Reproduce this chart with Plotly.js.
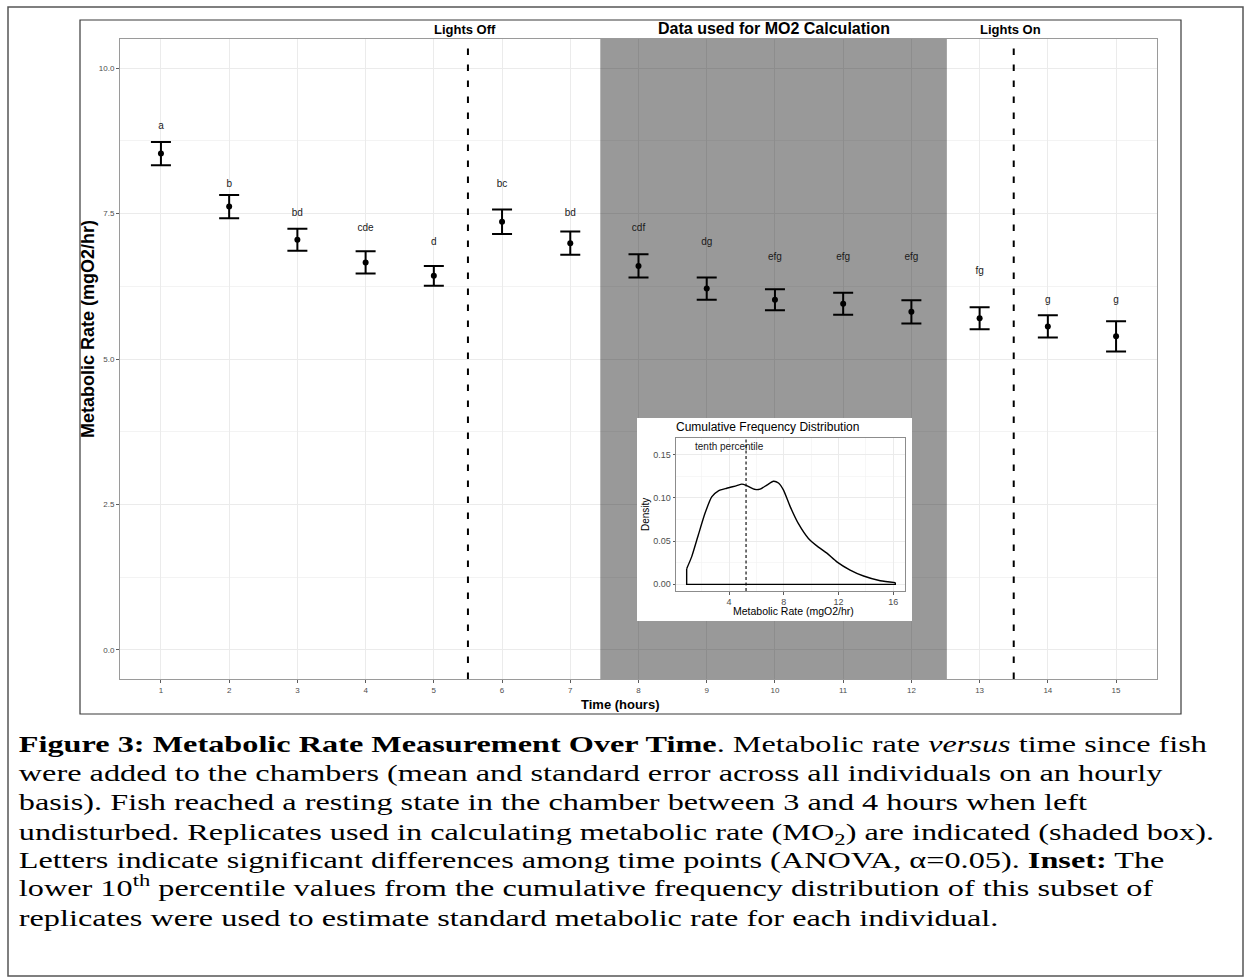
<!DOCTYPE html>
<html>
<head>
<meta charset="utf-8">
<script src="https://cdn.plot.ly/plotly-3.0.1.min.js"></script>
<style>
  html, body { margin: 0; padding: 0; background: #ffffff; overflow: hidden; }
  #chart { width: 1250px; height: 978px; }
</style>
</head>
<body>
<div id="chart"></div>
<script>
// Hourly metabolic rate (mean ± SE) with significance group letters
const hours = [1, 2, 3, 4, 5, 6, 7, 8, 9, 10, 11, 12, 13, 14, 15];
const meanRate = [8.53, 7.62, 7.05, 6.66, 6.43, 7.36, 6.99, 6.60, 6.21, 6.02, 5.95, 5.81, 5.70, 5.56, 5.39];
const stdError = [0.20, 0.20, 0.19, 0.19, 0.17, 0.21, 0.20, 0.20, 0.19, 0.18, 0.19, 0.20, 0.19, 0.19, 0.26];
const groupLetters = ['a', 'b', 'bd', 'cde', 'd', 'bc', 'bd', 'cdf', 'dg', 'efg', 'efg', 'efg', 'fg', 'g', 'g'];
const letterHeight = [9, 8, 7.5, 7.25, 7, 8, 7.5, 7.25, 7, 6.75, 6.75, 6.75, 6.5, 6, 6];
const hourTicks = ['1', '2', '3', '4', '5', '6', '7', '8', '9', '10', '11', '12', '13', '14', '15'];

// Light schedule and the hours used for the MO2 estimate
const lightsOff = 5.5;
const lightsOn = 13.5;
const mo2Window = [7.44, 12.52];

// Density of metabolic rate within the MO2 window (inset)
const densityRate = [0.9, 1.27, 1.75, 2.24, 2.73, 3.22, 3.83, 4.56, 4.93, 5.29, 5.9, 6.27, 6.76, 7.24, 7.61, 7.97, 8.46, 9.07, 9.8, 10.53, 11.15, 11.88, 12.85, 13.83, 15.05, 16.15];
const densityValue = [0.018, 0.032, 0.057, 0.082, 0.101, 0.108, 0.111, 0.114, 0.1157, 0.114, 0.1096, 0.110, 0.1146, 0.119, 0.117, 0.109, 0.090, 0.070, 0.053, 0.043, 0.036, 0.026, 0.0165, 0.0096, 0.0042, 0.002];
const tenthPercentile = 5.24;

// Figure caption, one entry per printed line
const captionLines = [
  '<b>Figure 3: Metabolic Rate Measurement Over Time</b>. Metabolic rate <i>versus</i> time since fish',
  'were added to the chambers (mean and standard error across all individuals on an hourly',
  'basis). Fish reached a resting state in the chamber between 3 and 4 hours when left',
  'undisturbed. Replicates used in calculating metabolic rate (MO<sub>2</sub>) are indicated (shaded box).',
  'Letters indicate significant differences among time points (ANOVA, \u03b1=0.05). <b>Inset:</b> The',
  'lower 10<sup>th</sup> percentile values from the cumulative frequency distribution of this subset of',
  'replicates were used to estimate standard metabolic rate for each individual.'
];

const W = 1250, H = 978;
const px = v => v / W;
const py = v => 1 - v / H;

const SANS = 'Liberation Sans, Arial, sans-serif';
const SERIF = 'Liberation Serif, Times New Roman, serif';
const GRID = '#ebebeb';

const mainYRange = [-0.5, 10.5];
const insetXRange = [0.12, 16.86];
const insetYRange = [-0.0077, 0.169];

const nD = densityRate.length;

const traces = [
  // shaded MO2 window, spanning the full panel height
  {
    type: 'scatter', mode: 'lines', xaxis: 'x', yaxis: 'y',
    x: [mo2Window[0], mo2Window[1], mo2Window[1], mo2Window[0], mo2Window[0]],
    y: [mainYRange[0], mainYRange[0], mainYRange[1], mainYRange[1], mainYRange[0]],
    fill: 'toself', fillcolor: 'rgba(0,0,0,0.4)', line: { width: 0, color: 'rgba(0,0,0,0)' },
    hoverinfo: 'skip'
  },
  {
    type: 'scatter', mode: 'markers', x: hours, y: meanRate,
    xaxis: 'x', yaxis: 'y',
    marker: { color: '#000000', size: 6 },
    error_y: { type: 'data', array: stdError, visible: true, color: '#000000', thickness: 2, width: 10 },
    hoverinfo: 'x+y'
  },
  {
    type: 'scatter', mode: 'text', x: hours, y: letterHeight, text: groupLetters,
    xaxis: 'x', yaxis: 'y',
    textposition: 'middle center',
    textfont: { family: SANS, size: 10, color: '#1a1a1a' },
    hoverinfo: 'skip'
  },
  // backing panel of the inset (its title and axis labels sit on it)
  { type: 'scatter', x: [], y: [], xaxis: 'x2', yaxis: 'y2', hoverinfo: 'skip' },
  // density curve
  {
    type: 'scatter', mode: 'lines', x: densityRate, y: densityValue,
    xaxis: 'x3', yaxis: 'y3',
    line: { color: '#000000', width: 1.4, shape: 'spline', smoothing: 0.6 },
    hoverinfo: 'skip'
  },
  // closing edges of the density outline (ends and baseline)
  {
    type: 'scatter', mode: 'lines',
    x: [densityRate[nD - 1], densityRate[nD - 1], densityRate[0], densityRate[0]],
    y: [densityValue[nD - 1], 0, 0, densityValue[0]],
    xaxis: 'x3', yaxis: 'y3',
    line: { color: '#000000', width: 1.4 },
    hoverinfo: 'skip'
  }
];

const shapes = [
  // outer page frame and figure frame
  { type: 'rect', xref: 'paper', yref: 'paper', x0: px(8), x1: px(1243), y0: py(976), y1: py(7),
    line: { color: '#555555', width: 1.5 }, fillcolor: 'rgba(0,0,0,0)', layer: 'below' },
  { type: 'rect', xref: 'paper', yref: 'paper', x0: px(80), x1: px(1181), y0: py(714), y1: py(20),
    line: { color: '#3a3a3a', width: 1.2 }, fillcolor: 'rgba(0,0,0,0)', layer: 'below' },
  // light switches
  { type: 'line', xref: 'x', yref: 'y', x0: lightsOff, x1: lightsOff, y0: mainYRange[0], y1: mainYRange[1],
    line: { color: '#000000', width: 2, dash: '6.5px,9.5px' }, layer: 'above' },
  { type: 'line', xref: 'x', yref: 'y', x0: lightsOn, x1: lightsOn, y0: mainYRange[0], y1: mainYRange[1],
    line: { color: '#000000', width: 2, dash: '6.5px,9.5px' }, layer: 'above' },
  // tenth percentile marker in the inset
  { type: 'line', xref: 'x3', yref: 'y3', x0: tenthPercentile, x1: tenthPercentile, y0: insetYRange[0], y1: insetYRange[1],
    line: { color: '#000000', width: 1.1, dash: '3px,2.5px' }, layer: 'above' }
];

function label(text, opts) {
  return Object.assign({ text: text, showarrow: false, xanchor: 'center', yanchor: 'middle' }, opts);
}

const annotations = [
  label('<b>Lights Off</b>', { xref: 'x', yref: 'paper', x: lightsOff, xshift: -3, y: py(29.5),
    font: { family: SANS, size: 13, color: '#000' } }),
  label('<b>Data used for MO2 Calculation</b>', { xref: 'x', yref: 'paper', x: (mo2Window[0] + mo2Window[1]) / 2, y: py(28.5),
    font: { family: SANS, size: 16, color: '#000' } }),
  label('<b>Lights On</b>', { xref: 'x', yref: 'paper', x: lightsOn, xshift: -3, y: py(29.5),
    font: { family: SANS, size: 13, color: '#000' } }),
  label('<b>Time (hours)</b>', { xref: 'paper', yref: 'paper', x: px(620), y: py(704),
    font: { family: SANS, size: 13, color: '#000' } }),
  label('<b>Metabolic Rate (mgO2/hr)</b>', { xref: 'paper', yref: 'paper', x: px(88), y: py(329),
    textangle: -90, font: { family: SANS, size: 18, color: '#000' } }),
  // inset labels
  label('Cumulative Frequency Distribution', { xref: 'paper', yref: 'paper', x: px(768), y: py(427),
    font: { family: SANS, size: 12, color: '#000' } }),
  label('tenth percentile', { xref: 'x3', yref: 'y3', x: 4.0, y: 0.159,
    font: { family: SANS, size: 10, color: '#1a1a1a' } }),
  label('Metabolic Rate (mgO2/hr)', { xref: 'paper', yref: 'paper', x: px(793), y: py(611),
    font: { family: SANS, size: 10.5, color: '#000' } }),
  label('Density', { xref: 'paper', yref: 'paper', x: px(645), y: py(515),
    textangle: -90, font: { family: SANS, size: 10, color: '#000' } })
];

// caption: Times-style text set wide, as printed on the page
const captionLeft = 16, captionTop = 744, captionStep = 29;
const captionSize = 24, captionWiden = 1.345;
const captionStart = annotations.length;
captionLines.forEach((line, i) => {
  let shift = 0;
  if (line.indexOf('<sub>') >= 0) shift = -2.5;
  if (line.indexOf('<sup>') >= 0) shift = 3.5;
  annotations.push(label(line, {
    xref: 'paper', yref: 'paper', x: px(captionLeft), xanchor: 'left',
    y: py(captionTop + i * captionStep), yshift: shift,
    font: { family: SERIF, size: captionSize, color: '#000000' }
  }));
});

const tickStyle = { family: SANS, size: 8, color: '#4d4d4d' };

const layout = {
  width: W, height: H, autosize: false,
  margin: { l: 0, r: 0, t: 0, b: 0, pad: 0 },
  paper_bgcolor: '#ffffff', plot_bgcolor: '#ffffff',
  showlegend: false,
  xaxis: {
    domain: [px(120), px(1157)], range: [0.4, 15.6], anchor: 'y',
    tickmode: 'array', tickvals: hours, ticktext: hourTicks,
    showgrid: true, gridcolor: GRID, gridwidth: 1, zeroline: false,
    showline: true, mirror: true, linecolor: '#9a9a9a', linewidth: 1,
    ticks: 'outside', ticklen: 3, tickcolor: '#333333', tickwidth: 0.8,
    tickfont: tickStyle, fixedrange: true
  },
  yaxis: {
    domain: [py(679), py(39)], range: mainYRange, anchor: 'x',
    tick0: 0, dtick: 2.5, tickformat: '.1f',
    showgrid: true, gridcolor: GRID, gridwidth: 1, zeroline: false,
    minor: { tick0: 0, dtick: 1.25, showgrid: true, gridcolor: GRID, gridwidth: 0.6 },
    showline: true, mirror: true, linecolor: '#9a9a9a', linewidth: 1,
    ticks: 'outside', ticklen: 3, tickcolor: '#333333', tickwidth: 0.8,
    tickfont: tickStyle, fixedrange: true
  },
  xaxis2: {
    domain: [px(637), px(912)], anchor: 'y2', range: [0, 1], visible: false, fixedrange: true
  },
  yaxis2: {
    domain: [py(621), py(418)], anchor: 'x2', range: [0, 1], visible: false, fixedrange: true
  },
  xaxis3: {
    domain: [px(676), px(905)], anchor: 'y3', range: insetXRange,
    tick0: 0, dtick: 4,
    showgrid: true, gridcolor: GRID, gridwidth: 1, zeroline: false,
    minor: { tick0: 0, dtick: 2, showgrid: true, gridcolor: '#f2f2f2', gridwidth: 0.6 },
    showline: true, mirror: true, linecolor: '#8c8c8c', linewidth: 1,
    ticks: 'outside', ticklen: 2.5, tickcolor: '#333333', tickwidth: 0.8,
    tickfont: { family: SANS, size: 9, color: '#4d4d4d' }, fixedrange: true
  },
  yaxis3: {
    domain: [py(591), py(438)], anchor: 'x3', range: insetYRange,
    tick0: 0, dtick: 0.05, tickformat: '.2f',
    showgrid: true, gridcolor: GRID, gridwidth: 1, zeroline: false,
    minor: { tick0: 0, dtick: 0.025, showgrid: true, gridcolor: '#f2f2f2', gridwidth: 0.6 },
    showline: true, mirror: true, linecolor: '#8c8c8c', linewidth: 1,
    ticks: 'outside', ticklen: 2.5, tickcolor: '#333333', tickwidth: 0.8,
    tickfont: { family: SANS, size: 9, color: '#4d4d4d' }, fixedrange: true
  },
  shapes: shapes,
  annotations: annotations
};

Plotly.newPlot('chart', traces, layout, { staticPlot: true, displayModeBar: false }).then(gd => {
  // widen the caption lines horizontally about their left edge
  gd.querySelectorAll('.infolayer g.annotation').forEach(g => {
    const idx = +g.getAttribute('data-index');
    if (idx >= captionStart) {
      const prev = g.getAttribute('transform') || '';
      g.setAttribute('transform',
        `translate(${captionLeft},0) scale(${captionWiden},1) translate(${-captionLeft},0) ${prev}`);
    }
  });
});
</script>
</body>
</html>
